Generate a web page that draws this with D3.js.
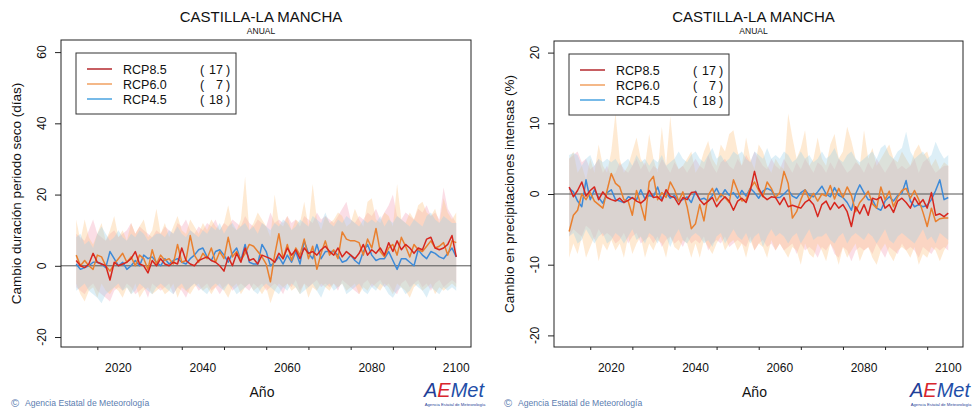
<!DOCTYPE html>
<html lang="es">
  <head>
    <meta charset="utf-8">
    <title>Castilla-La Mancha - anual</title>
    <style>
      body { margin: 0; background: #fff; }
      svg { display: block; font-family: "Liberation Sans", Arial, sans-serif; }
    </style>
  </head>
  <body>
    <svg></svg>

    <script src="https://d3js.org/d3.v7.min.js"></script>
    <script>
      // anos de la proyeccion
      var years = d3.range(2010, 2101);
      var xTicks = [2020, 2040, 2060, 2080, 2100];
      var scenarios = ['RCP8.5', 'RCP6.0', 'RCP4.5'];
      var nModels = [17, 7, 18];

      // panel izquierdo: duracion periodo seco (dias)
      var seco85 = [1.5,0,-0.5,0.5,3.5,1,0.5,0,-4,1, 0,0.5,1,2,4,0.5,0,-2,1.5,0, 2,0.5,0,1,0.5,5,1.5,0.5,0,1.5,
        2,2.5,1.5,1,0,-1.5,2.5,0,3.5,1, 5,1.5,2,0.5,3,2.5,2,1,3.5,2, 5,3,4.5,2,5,3.5,4,3,4.5,5.5,
        4,3,5,2.5,4,3,2,3.5,6,3, 4.5,3.5,5,3,6.5,4,7,4.5,6,5, 3.5,5,4.5,7.5,8,5,4.5,5,6,8.5, 2.5];
      var seco60 = [3,0,1.5,0,-1,3,2.5,0,-1.5,0.5, 2,3.5,1,2.5,0,3,2,-1,4.5,0.5, 3,1.5,2,0.5,6,1,1.5,8.5,3,1,
        3.5,2,5,1,4,2,8,2.5,4,1.5, 3.5,6,5.5,4,2.5,0.5,-4.5,3,9,2, 6,1.5,5,3,7.5,2,5.5,-1,3.5,7,
        3,4.5,2,9.5,7.5,7,7,6.5,3,7.5, 5,10.5,4,2.5,5,6,3,8,5.5,2.5, 6,4.5,4,5.5,7,5,5.5,6.5,3,7, 6.5];
      var seco45 = [0.5,-1,-0.5,0,1,1,0.5,-0.5,4,2, 0,1,-1,0,1.5,0,3,2,2.5,1, 0,2,0.5,1.5,2,1,0.5,2,3,4.5,
        5,2.5,1.5,4,4.5,3,1,3.5,5,1.5, 6,1,0.5,0.5,6,4,0,1,2.5,0.5, 3,1,4,0.5,7,3.5,2,6,2,4,
        4,4,3,1,1.5,3,1.5,0.5,4,6, 3,1.5,2,2,4,1.5,-1,2,2,1, 0,4.5,3,2,4,3.5,2.5,2,3.5,5, 2.5];
      var seco85Max = [9,8,7,10,13,9,8,7,9,10, 8,9,10,12,9,11,10,9,8,10, 9,11,10,9,12,11,13,10,9,11,
        10,12,11,13,10,12,11,13,12,11, 14,12,11,13,12,11,15,12,13,12, 14,12,13,11,14,13,12,15,13,14,
        13,12,14,16,18,13,12,14,13,15, 14,16,13,15,17,20,14,13,15,14, 13,16,15,17,14,15,13,22,16,14, 12];
      var seco85Min = [-6,-7,-8,-6,-5,-7,-8,-9,-10,-7, -6,-7,-5,-6,-8,-7,-6,-9,-5,-6, -7,-6,-5,-8,-6,-7,-9,-6,-5,-7,
        -6,-5,-7,-6,-8,-6,-5,-7,-6,-5, -6,-7,-5,-6,-5,-7,-6,-5,-6,-8, -5,-6,-4,-7,-5,-6,-5,-4,-6,-5,
        -6,-5,-7,-4,-5,-6,-7,-8,-5,-4, -6,-5,-4,-6,-5,-7,-8,-5,-4,-6, -5,-4,-6,-5,-7,-5,-4,-6,-5,-4, -5];
      var seco60Max = [13,7,13,8,6,9,12,7,10,14, 8,10,7,12,9,11,13,8,10,16, 9,12,8,11,14,10,9,13,11,9,
        12,10,13,11,10,12,17,11,10,13, 25,10,12,15,13,11,8,20,12,11, 14,10,13,12,18,11,23,13,10,14,
        12,13,15,14,11,12,16,13,11,18, 19,13,12,15,14,11,23,13,12,15, 13,17,18,15,14,16,12,19,15,13, 15];
      var seco60Min = [-5,-8,-10,-7,-6,-9,-5,-7,-8,-6, -7,-9,-6,-8,-5,-9,-7,-6,-8,-7, -6,-8,-7,-5,-9,-6,-7,-8,-6,-5,
        -7,-6,-8,-6,-5,-7,-9,-6,-5,-8, -6,-5,-7,-6,-8,-6,-10.5,-7,-5,-6, -5,-7,-6,-8,-5,-9,-6,-7,-5,-6,
        -7,-5,-6,-5,-7,-6,-5,-8,-6,-7, -5,-6,-7,-5,-6,-8,-5,-6,-7,-9, -6,-5,-7,-6,-5,-8,-6,-7,-6,-5, -6];
      var seco45Max = [8,9,6,7,5,9,11,9,7,8, 10,8,7,9,8,10,9,7,8,9, 9,8,10,9,11,9,8,10,9,8,
        10,9,11,10,12,9,11,12,10,11, 12,10,11,9,12,11,10,12,11,13, 12,10,11,13,12,11,14,13,12,15,
        12,11,13,12,14,13,12,11,13,12, 13,12,14,11,13,12,14,13,12,11, 13,12,11,14,15,13,12,14,13,12, 12];
      var seco45Min = [-7,-6,-5,-7,-8,-9,-10.5,-8,-7,-6, -5,-7,-6,-8,-7,-5,-6,-7,-8,-6, -5,-6,-7,-8,-6,-5,-7,-6,-5,-6,
        -7,-8,-6,-5,-6,-7,-5,-6,-8,-7, -6,-5,-7,-8,-6,-5,-6,-7,-8,-6, -7,-5,-6,-8,-7,-6,-5,-7,-9,-6,
        -5,-7,-6,-5,-8,-7,-6,-5,-7,-8, -6,-7,-5,-6,-8,-9,-7,-6,-8,-7, -5,-6,-7,-9,-6,-7,-8,-6,-7,-6, -7];

      // panel derecho: precipitaciones intensas (%)
      var prec85 = [1,-0.4,0.5,1.7,-0.3,0.5,1,-0.8,0.3,-0.5, -0.8,-1,-0.6,-1.2,-0.9,-0.5,-1,-1.3,-0.8,0.5,
        -0.5,-0.4,-1,0.6,-0.3,-0.5,-1.5,-0.5,-0.8,0.2, 0.3,-0.8,-1.5,-1,-0.5,-1.8,-1,-0.4,-1,-2.3,
        -1,-0.6,-1.2,0.5,3.2,0.8,-0.3,-0.8,-0.4,-0.5, -1.5,-0.5,-1.8,-1.6,-1.8,-2,-1.2,-0.8,-1.5,-3.2,
        -1.5,-1,-2.2,-1.2,-2,-1.5,-2.5,-4.6,-1.8,-2.8, -1.5,-3,-0.6,-0.8,-0.4,-2,-1.5,-2.6,-1,-0.6,
        -1.2,-2,-0.5,-1.5,-0.8,-2,0.2,-3,-2.8,-3.2, -2.7];
      var prec60 = [-5.3,-3,-2.3,0,-0.8,0.2,-1,-1.5,-2,0.5, 2.9,1.5,1,-0.8,-1,-3,0.5,-1.5,-3.7,1.7,
        2.5,-0.8,0.2,-0.5,1.7,0.6,-1,0.3,-1.8,-4.9, -4.2,-1.5,-3.8,-0.2,0.8,-1,0,-0.5,-1.2,2,
        0.5,-1,-0.8,0.8,1.7,0.5,-0.4,1.7,0.8,-0.5, 0.2,3.2,1.5,-3.4,-2.5,-0.8,0.6,-0.8,0.1,-1,
        0,-0.3,1.2,-0.7,0.8,-0.5,1,-0.2,-2.5,-1.2, -0.5,0.4,-1.4,-2,1,-0.8,0.4,-1.8,-0.4,0.5,
        0.8,-0.6,0.5,-0.8,-2.6,-4.6,-2,-3.9,-3.5,-3.4, -3.4];
      var prec45 = [0.8,0.3,-1,-1.8,2,-0.8,0.6,-0.5,-1.3,0.2, 0.6,-0.8,-1,-1.2,-0.4,-0.6,-0.8,0.6,-0.7,-0.2,
        -0.4,1,-0.8,0.2,-0.6,-0.2,-1,-0.8,-0.4,-1.2, 0.4,-0.8,-0.6,-1,-0.2,0.8,-0.4,0.6,-0.2,0.2,
        -0.6,0.5,-0.3,0.8,0.2,-0.6,0.4,0.8,0.5,-0.5, -0.5,0,0.6,-0.3,-0.6,0.2,0.6,-0.2,-0.4,0.3,
        1.1,0,-0.4,0.9,-0.2,-0.5,-1.2,-2.3,0,1.3, 0.2,-0.8,-0.8,-2,-2.3,-1,-0.4,-1,-0.2,0.1,
        1.9,-1,-1.8,-1.5,-1.8,-1.6,-0.8,0.5,2,-0.8, -0.5];
      var prec85Max = [5,5.5,6,4.5,5,3.5,4,5,3,4, 2.5,3,4.5,3.5,3,4,5,3.5,4.5,3, 4,3.5,5,4,3,4.5,3.5,4,3,4,
        5,4,3.5,5.5,4,3,4.5,5,4,3.5, 5,4,5.5,4.5,6,5,4,3.5,5,4, 3.5,5,4,3,4.5,3.5,5,4,3,4.5,
        4,3,4.5,3.5,5,4,3,3.5,4.5,4, 3,4.5,3.5,5,4,3,4,5,3.5,4, 3.5,4,5,3,4.5,5,4,3,3.5,4, 4];
      var prec85Min = [-6,-5,-5.5,-6,-4.5,-5,-6.5,-5,-6,-5.5, -6,-7,-6.5,-5.5,-7,-6,-5.5,-7,-6.5,-6,
        -7,-6,-7.5,-6.5,-6,-7,-6.5,-7.5,-6,-7, -6.5,-7,-6,-8,-7,-6.5,-7,-6,-7.5,-7,
        -6.5,-7,-7.5,-6,-8,-7,-6.5,-7.5,-7,-8, -7,-8,-7.5,-7,-8.5,-7,-8,-7.5,-8,-9,
        -7.5,-8,-7,-8.5,-9,-7.5,-8,-9.5,-8,-7.5, -8,-7.5,-8.5,-7,-8,-9,-7.5,-8,-8.5,-7,
        -8,-7.5,-8,-9,-7.5,-8,-8.5,-7.5,-8,-7.5, -8];
      var prec60Max = [5,6,3,4,2,5,3,7,4,3, 6,11.5,5,3,4,6,8,5,4,8.5, 5,3,9.5,4,11,5,3.5,4,5,6,
        3,4,6,7.5,5,4,7,6,8.5,9, 6,4,8,5,3.5,7,6,4,3,5, 4,3.5,11.4,8,5,6.5,9,4,5,8,
        5,4,7,8.5,5,6,9.5,7.5,5,4, 9,5,6.5,4,5,6,7,5,4.5,6, 5,4,6,7,5.5,6,4,5,3.5,4.5, 4];
      var prec60Min = [-9,-7,-8.5,-6,-9,-7.5,-6,-9.5,-7,-8, -6.5,-8,-7,-9,-6,-8.5,-7,-6,-9,-7,
        -8,-6.5,-7,-9,-6,-7.5,-8,-6.5,-7,-9, -7,-9,-6.5,-7.5,-8.5,-7,-6,-8,-7,-6.5,
        -8,-7,-9,-6.5,-8,-7,-7.5,-9,-6.5,-8, -7,-8,-9,-7.5,-8,-10,-7,-8.5,-9,-7,
        -8,-9.5,-7,-8,-10,-7.5,-9,-8,-7,-9.5, -8,-7.5,-9,-10,-8,-7,-8.5,-9.5,-8,-7.5,
        -8,-9,-7.5,-10,-8.5,-9,-7.5,-8,-9.5,-8, -7];
      var prec45Max = [5.5,5.8,5.5,4,5,5.5,4,5,4.5,5, 4.5,5,4,4.5,5,4,5.5,4.5,5,4, 5,4.5,5.5,4,4.5,5,6,5,4.5,5.5,
        6,5,4.5,5.5,6.5,5,5.5,4.5,5,6, 5.5,6,5,4.5,6,5.5,5,6.5,5,5.5, 5,6,5.5,4.5,5,6,5,5.5,4.5,5,
        6,5,5.5,6.5,5,4.5,5.5,6,5,4.5, 5,5.5,6,5,6.5,7,5.5,5,6,6.5, 8.8,6,5,5.5,6,5,5.5,7.4,6,5, 5.5];
      var prec45Min = [-6,-5.5,-7,-6.5,-5,-6,-7,-6,-5.5,-7, -6.5,-5.5,-6,-7,-6,-5,-6.5,-6,-7,-5.5,
        -6,-7,-5.5,-6,-7.5,-6,-5,-6.5,-7,-6, -5.5,-6,-7,-6.5,-7.5,-6,-5.5,-7,-6,-5,
        -6,-6.5,-5.5,-7,-6,-5.5,-7.5,-6,-5,-6, -5.5,-6,-7,-6,-5.5,-7,-6,-5,-6.5,-6,
        -6,-5.5,-6.5,-7,-6,-5.5,-7,-6,-5.5,-6, -6.5,-5.5,-6,-7,-6,-5,-6.5,-7,-6,-5.5,
        -6,-6.5,-7,-6,-5,-6.5,-6,-7,-5.5,-6, -6.5];

      var lineColors = ['#d7261e', '#e9802f', '#3d8ad8'];
      var legendColors = ['#b5282e', '#f0a060', '#4aa3e0'];
      var bandColors = ['#f3a0b6', '#fcc88c', '#9ed2e8'];
      var bandOpacity = [0.35, 0.38, 0.35];

      var svg = d3.select('svg').attr('width', 978).attr('height', 412);

      function drawPanel(p) {
        var g = svg.append('g');
        var x = d3.scaleLinear().domain([2006.4, 2103.5]).range([p.left, p.right]);
        var y = d3.scaleLinear().domain(p.yDomain).range([p.bottom, p.top]);

        // titulos
        var cx = (p.left + p.right) / 2 - 5;
        g.append('text').attr('x', cx).attr('y', 21.5).attr('text-anchor', 'middle')
          .attr('font-size', 15).attr('fill', '#111').text('CASTILLA-LA MANCHA');
        g.append('text').attr('x', cx).attr('y', 33.5).attr('text-anchor', 'middle')
          .attr('font-size', 8.5).attr('fill', '#111').text('ANUAL');

        // bandas
        var area = d3.area()
          .x(function(d, i) { return x(years[i]); })
          .y0(function(d) { return y(d[0]); })
          .y1(function(d) { return y(d[1]); });
        p.bands.forEach(function(b, k) {
          var pts = years.map(function(yr, i) { return [b[0][i], b[1][i]]; });
          g.append('path').datum(pts).attr('d', area)
            .attr('fill', bandColors[k]).attr('fill-opacity', bandOpacity[k]).attr('stroke', 'none');
        });

        // linea cero
        g.append('line').attr('x1', p.left).attr('x2', p.right)
          .attr('y1', y(0)).attr('y2', y(0)).attr('stroke', '#555').attr('stroke-width', 1);

        // medias
        var line = d3.line()
          .x(function(d, i) { return x(years[i]); })
          .y(function(d) { return y(d); });
        [2, 1, 0].forEach(function(k) {
          g.append('path').datum(p.means[k]).attr('d', line)
            .attr('fill', 'none').attr('stroke', lineColors[k]).attr('stroke-width', 1.5)
            .attr('stroke-linejoin', 'round');
        });

        // marco
        g.append('rect').attr('x', p.left).attr('y', p.top)
          .attr('width', p.right - p.left).attr('height', p.bottom - p.top)
          .attr('fill', 'none').attr('stroke', '#222').attr('stroke-width', 1);

        // eje x
        var xAxis = g.append('g').attr('transform', 'translate(0,' + p.bottom + ')');
        xAxis.call(d3.axisBottom(x).tickValues(d3.range(2010, 2101, 10)).tickSize(6).tickFormat(''));
        xAxis.call(d3.axisBottom(x).tickValues(d3.range(2015, 2100, 10)).tickSize(3).tickFormat(''));
        xAxis.selectAll('.domain').remove();
        xAxis.selectAll('line').attr('stroke', '#222');
        xTicks.forEach(function(t) {
          g.append('text').attr('x', x(t)).attr('y', p.bottom + 25).attr('text-anchor', 'middle')
            .attr('font-size', 12).attr('fill', '#111').text(t);
        });
        g.append('text').attr('x', cx + 1).attr('y', 397).attr('text-anchor', 'middle')
          .attr('font-size', 14).attr('fill', '#111').text('Año');

        // eje y
        var yAxis = g.append('g').attr('transform', 'translate(' + p.left + ',0)');
        yAxis.call(d3.axisLeft(y).tickValues(p.yMinor).tickSize(3).tickFormat(''));
        yAxis.call(d3.axisLeft(y).tickValues(p.yTicks).tickSize(6).tickFormat(''));
        yAxis.selectAll('.domain').remove();
        yAxis.selectAll('line').attr('stroke', '#222');
        p.yTicks.forEach(function(t) {
          g.append('text').attr('transform', 'translate(' + (p.left - 15) + ',' + y(t) + ') rotate(-90)')
            .attr('text-anchor', 'middle').attr('font-size', 12).attr('fill', '#111').text(t);
        });
        g.append('text').attr('transform', 'translate(' + (p.left - 40) + ',' + ((p.top + p.bottom) / 2) + ') rotate(-90)')
          .attr('text-anchor', 'middle').attr('font-size', 13.5).attr('fill', '#111').text(p.yLabel);

        // leyenda
        var lg = g.append('g').attr('transform', 'translate(' + (p.left + 15) + ',' + (p.top + 13) + ')');
        lg.append('rect').attr('x', 0).attr('y', 0).attr('width', 160).attr('height', 61)
          .attr('fill', '#fff').attr('stroke', '#333').attr('stroke-width', 1);
        scenarios.forEach(function(s, k) {
          var ry = 16 + k * 15;
          lg.append('line').attr('x1', 11).attr('x2', 36).attr('y1', ry).attr('y2', ry)
            .attr('stroke', legendColors[k]).attr('stroke-width', 1.5);
          lg.append('text').attr('x', 47).attr('y', ry + 4.5).attr('font-size', 12.5).attr('fill', '#111').text(s);
          lg.append('text').attr('x', 124).attr('y', ry + 4.5).attr('font-size', 12.5).attr('fill', '#111').text('(');
          lg.append('text').attr('x', 147).attr('y', ry + 4.5).attr('text-anchor', 'end')
            .attr('font-size', 12.5).attr('fill', '#111').text(nModels[k]);
          lg.append('text').attr('x', 150).attr('y', ry + 4.5).attr('font-size', 12.5).attr('fill', '#111').text(')');
        });

        // pie
        g.append('text').attr('x', p.left - 50).attr('y', 407).attr('font-size', 11)
          .attr('fill', '#5b7db0').text('©');
        g.append('text').attr('x', p.left - 36).attr('y', 406).attr('font-size', 8.6)
          .attr('fill', '#5b7db0').text('Agencia Estatal de Meteorología');

        // logo AEMet
        var lx = p.logoX;
        var logo = g.append('text').attr('x', lx).attr('y', 397).attr('font-size', 20)
          .attr('font-style', 'italic');
        logo.append('tspan').attr('fill', '#1f3f98').text('A');
        logo.append('tspan').attr('fill', '#d9262c').text('E');
        logo.append('tspan').attr('fill', '#1f4fa8').text('Met');
        g.append('text').attr('x', lx + 31).attr('y', 406).attr('text-anchor', 'middle')
          .attr('font-size', 4.2).attr('fill', '#1f3f98').text('Agencia Estatal de Meteorología');
      }

      drawPanel({
        left: 61, right: 471, top: 40, bottom: 347, logoX: 424,
        yDomain: [-22.8, 63.4],
        yTicks: [-20, 0, 20, 40, 60],
        yMinor: d3.range(-20, 61, 5),
        yLabel: 'Cambio duración periodo seco (días)',
        means: [seco85, seco60, seco45],
        bands: [[seco85Min, seco85Max], [seco60Min, seco60Max], [seco45Min, seco45Max]]
      });

      drawPanel({
        left: 554, right: 963, top: 41, bottom: 347, logoX: 910,
        yDomain: [-21.64, 21.64],
        yTicks: [-20, -10, 0, 10, 20],
        yMinor: d3.range(-20, 21, 5),
        yLabel: 'Cambio en precipitaciones intensas (%)',
        means: [prec85, prec60, prec45],
        bands: [[prec85Min, prec85Max], [prec60Min, prec60Max], [prec45Min, prec45Max]]
      });
    </script>
  </body>
</html>
